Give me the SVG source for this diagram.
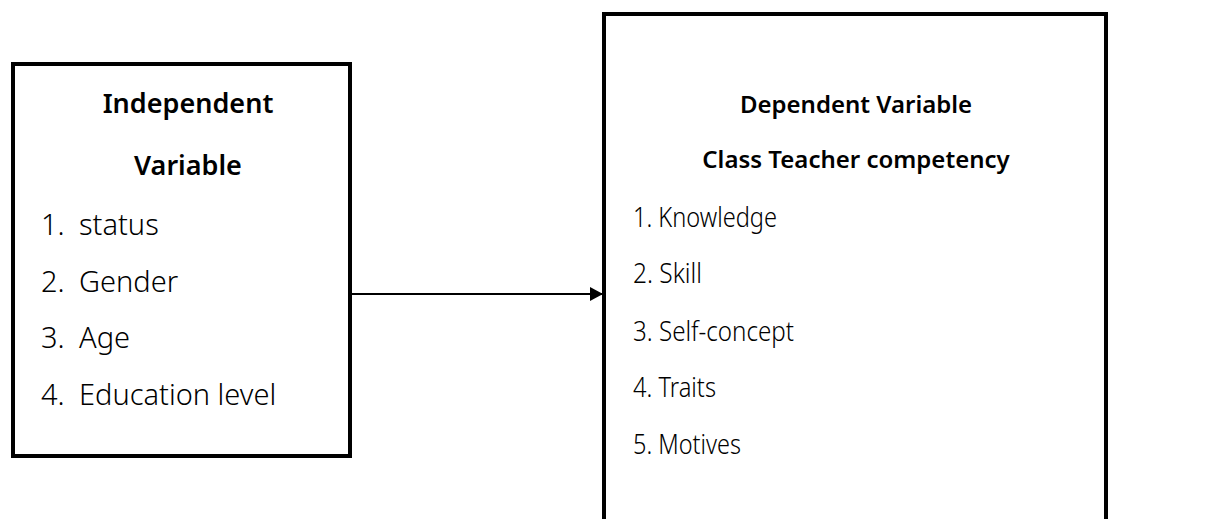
<svg xmlns="http://www.w3.org/2000/svg" width="1216" height="519" viewBox="0 0 1216 519">
<style>
.box{fill:#fff;stroke:#000;stroke-width:4}
.h{font-family:"Noto Sans","DejaVu Sans",sans-serif;font-weight:600;fill:#000;text-anchor:middle}
.hl{font-size:27px}
.hr{font-size:24px}
.t{font-family:"Noto Sans","DejaVu Sans",sans-serif;font-weight:300;fill:#000}
.tl{font-size:29px}
.tr{font-size:27px}
.c{stroke:#000;stroke-width:2;fill:none}
</style>
<defs>
<marker id="arr" markerWidth="14" markerHeight="14" refX="13" refY="7" orient="auto" markerUnits="userSpaceOnUse">
<path d="M0,0 L13,7 L0,14 Z" fill="#000"/>
</marker>
</defs>
<rect width="1216" height="519" fill="#fff"/>
<g id="independent">
<rect class="box" x="13" y="64" width="337" height="392"/>
<text class="h hl" x="188" y="113">Independent</text>
<text class="h hl" x="188" y="175">Variable</text>
<text class="t tl" x="41" y="235">1.</text><text class="t tl" x="79" y="235">status</text>
<text class="t tl" x="41" y="292">2.</text><text class="t tl" x="79" y="292">Gender</text>
<text class="t tl" x="41" y="348">3.</text><text class="t tl" x="79" y="348">Age</text>
<text class="t tl" x="41" y="405">4.</text><text class="t tl" x="79" y="405">Education level</text>
</g>
<g id="dependent">
<rect class="box" x="604" y="14" width="502" height="530"/>
<text class="h hr" x="856" y="113">Dependent Variable</text>
<text class="h hr" x="856" y="168">Class Teacher competency</text>
<text class="t tr" x="633" y="227" textLength="144" lengthAdjust="spacingAndGlyphs">1. Knowledge</text>
<text class="t tr" x="633" y="283" textLength="69" lengthAdjust="spacingAndGlyphs">2. Skill</text>
<text class="t tr" x="633" y="341" textLength="161" lengthAdjust="spacingAndGlyphs">3. Self-concept</text>
<text class="t tr" x="633" y="397" textLength="83" lengthAdjust="spacingAndGlyphs">4. Traits</text>
<text class="t tr" x="633" y="454" textLength="108" lengthAdjust="spacingAndGlyphs">5. Motives</text>
</g>
<g id="connectors">
<line class="c" x1="352" y1="294" x2="603" y2="294" marker-end="url(#arr)"/>
</g>
</svg>
